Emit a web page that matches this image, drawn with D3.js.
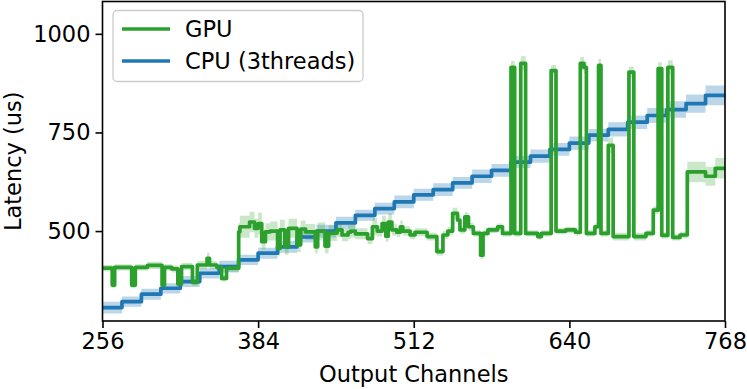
<!DOCTYPE html>
<html>
<head>
<meta charset="utf-8">
<script src="https://cdn.jsdelivr.net/npm/d3@7"></script>
<style>
    body { margin: 0; background: #fff; }
    text { font-family: "DejaVu Sans", sans-serif; }
</style>
</head>
<body>
<div id="chart"></div>
<script>
// CPU (3 threads): one level per block of 16 output channels
var cpuChannels = [256, 272, 288, 304, 320, 336, 352, 368, 384, 400, 416, 432, 448, 464, 480, 496,
    512, 528, 544, 560, 576, 592, 608, 624, 640, 656, 672, 688, 704, 720, 736, 752];
var cpuLatency = [306, 321, 340, 355, 372, 393, 410, 427, 444, 460, 485, 500, 521, 540, 557, 574,
    592, 605, 622, 639, 654, 675, 690, 707, 723, 743, 758, 776, 793, 808, 823, 844];
var cpuSpread = [15, 13, 14, 13, 14, 13, 15, 13, 14, 15, 14, 16, 15, 14, 15, 16,
    15, 16, 15, 17, 16, 15, 17, 16, 17, 16, 18, 17, 19, 21, 23, 25];

// GPU: channel where each level starts, and the level
var gpuChannels = [256, 264, 266, 280, 283, 293, 305, 307, 313, 318, 321, 330, 334, 342, 344, 350,
    354, 358, 368, 369, 377, 381, 384, 387, 390, 394, 400, 402, 406, 409, 416, 419,
    423, 431, 433, 439, 442, 449, 453, 458, 460, 464, 474, 478, 482, 486, 489, 491,
    494, 498, 501, 503, 509, 513, 523, 531, 536, 540, 544, 548, 550, 554, 557, 561,
    567, 569, 573, 581, 585, 592, 595, 600, 604, 614, 617, 625, 629, 637, 645, 649,
    652, 654, 661, 664, 666, 672, 676, 689, 693, 703, 709, 713, 716, 721, 725, 731,
    737, 752, 760];
var gpuLatency = [406, 363, 408, 363, 408, 413, 363, 408, 404, 366, 410, 370, 414, 431, 414, 408,
    380, 406, 498, 511, 523, 507, 519, 473, 498, 500, 456, 503, 460, 507, 465, 505,
    498, 460, 500, 462, 495, 503, 490, 497, 500, 493, 481, 511, 500, 519, 487, 523,
    503, 497, 511, 500, 490, 497, 486, 448, 490, 500, 545, 528, 503, 536, 511, 494,
    439, 494, 503, 511, 494, 915, 494, 925, 494, 486, 494, 907, 500, 503, 497, 925,
    915, 494, 511, 920, 494, 717, 486, 903, 486, 494, 553, 912, 489, 915, 484, 490,
    650, 639, 659];
var gpuSpread = [8, 8, 8, 8, 8, 9, 8, 8, 9, 8, 9, 8, 10, 14, 10, 9,
    8, 9, 22, 28, 26, 24, 28, 20, 22, 24, 18, 26, 20, 24, 18, 22,
    20, 16, 22, 18, 20, 18, 16, 18, 16, 14, 14, 22, 14, 20, 14, 22,
    14, 12, 16, 12, 10, 10, 10, 10, 10, 10, 14, 12, 10, 12, 10, 8,
    10, 8, 8, 8, 8, 16, 8, 18, 8, 8, 8, 14, 8, 8, 8, 16,
    14, 8, 8, 16, 8, 20, 10, 14, 10, 8, 10, 16, 8, 18, 8, 8,
    26, 24, 26];

var xTicks = [256, 384, 512, 640, 768];
var yTicks = [500, 750, 1000];

var W = 747, H = 389;
var FONT = "22.5px";
var LINE_W = 3.7;
var margin = {top: 1.5, right: 22, bottom: 68, left: 102.5};
var width = W - margin.left - margin.right;
var height = H - margin.top - margin.bottom;

var xScale = d3.scaleLinear().domain([256, 768]).range([0, width]);
var yScale = d3.scaleLinear().domain([272, 1082]).range([height, 0]);

function makeSeries(channels, values, spread) {
    var s = channels.map(function (c, i) {
        return {c: c, v: values[i], s: spread[i]};
    });
    var last = s[s.length - 1];
    s.push({c: 768, v: last.v, s: last.s});
    return s;
}

var cpuData = makeSeries(cpuChannels, cpuLatency, cpuSpread);
var gpuData = makeSeries(gpuChannels, gpuLatency, gpuSpread);

var svg = d3.select("#chart").append("svg")
    .attr("width", W)
    .attr("height", H);

svg.append("defs").append("clipPath")
    .attr("id", "plotClip")
    .append("rect")
    .attr("width", width)
    .attr("height", height);

var g = svg.append("g")
    .attr("transform", "translate(" + margin.left + "," + margin.top + ")");

var plot = g.append("g").attr("clip-path", "url(#plotClip)");

function bandArea() {
    return d3.area()
        .curve(d3.curveStepAfter)
        .x(function (d) { return xScale(d.c); })
        .y0(function (d) { return yScale(d.v - d.s); })
        .y1(function (d) { return yScale(d.v + d.s); });
}

var line = d3.line()
    .curve(d3.curveStepAfter)
    .x(function (d) { return xScale(d.c); })
    .y(function (d) { return yScale(d.v); });

plot.append("path")
    .attr("d", bandArea()(cpuData))
    .attr("fill", "#1f77b4")
    .attr("fill-opacity", 0.3);

plot.append("path")
    .attr("d", bandArea()(gpuData))
    .attr("fill", "#2ca02c")
    .attr("fill-opacity", 0.25);

plot.append("path")
    .attr("d", line(cpuData))
    .attr("fill", "none")
    .attr("stroke", "#1f77b4")
    .attr("stroke-width", LINE_W)
    .attr("stroke-linejoin", "round");

plot.append("path")
    .attr("d", line(gpuData))
    .attr("fill", "none")
    .attr("stroke", "#2ca02c")
    .attr("stroke-width", LINE_W)
    .attr("stroke-linejoin", "round");

// frame
g.append("rect")
    .attr("width", width)
    .attr("height", height)
    .attr("fill", "none")
    .attr("stroke", "#000")
    .attr("stroke-width", 1.6);

var xAxis = g.append("g")
    .attr("transform", "translate(0," + height + ")")
    .call(d3.axisBottom(xScale).tickValues(xTicks).tickSize(7).tickPadding(5).tickFormat(d3.format("d")));

var yAxis = g.append("g")
    .call(d3.axisLeft(yScale).tickValues(yTicks).tickSize(7).tickPadding(5).tickFormat(d3.format("d")));

[xAxis, yAxis].forEach(function (a) {
    a.select(".domain").remove();
    a.selectAll(".tick line").attr("stroke", "#000").attr("stroke-width", 1.6);
    a.selectAll(".tick text")
        .attr("fill", "#000")
        .style("font-family", "'DejaVu Sans', sans-serif")
        .style("font-size", FONT);
});

g.append("text")
    .attr("x", width / 2)
    .attr("y", 382 - margin.top)
    .attr("text-anchor", "middle")
    .style("font-size", FONT)
    .text("Output Channels");

g.append("text")
    .attr("transform", "rotate(-90)")
    .attr("x", -height / 2)
    .attr("y", 21 - margin.left)
    .attr("text-anchor", "middle")
    .style("font-size", FONT)
    .text("Latency (us)");

// legend
var legend = g.append("g")
    .attr("transform", "translate(" + (113 - margin.left) + "," + (10.5 - margin.top) + ")");

legend.append("rect")
    .attr("width", 250)
    .attr("height", 71)
    .attr("rx", 4)
    .attr("fill", "#fff")
    .attr("fill-opacity", 0.85)
    .attr("stroke", "#ccc")
    .attr("stroke-width", 1.3);

var legendItems = [
    {label: "GPU", color: "#2ca02c"},
    {label: "CPU (3threads)", color: "#1f77b4"}
];

legendItems.forEach(function (d, i) {
    var yy = 18.5 + i * 32;
    legend.append("line")
        .attr("x1", 9)
        .attr("x2", 57)
        .attr("y1", yy)
        .attr("y2", yy)
        .attr("stroke", d.color)
        .attr("stroke-width", LINE_W);
    legend.append("text")
        .attr("x", 72)
        .attr("y", yy)
        .attr("dy", "0.35em")
        .style("font-size", FONT)
        .text(d.label);
});
</script>
</body>
</html>
